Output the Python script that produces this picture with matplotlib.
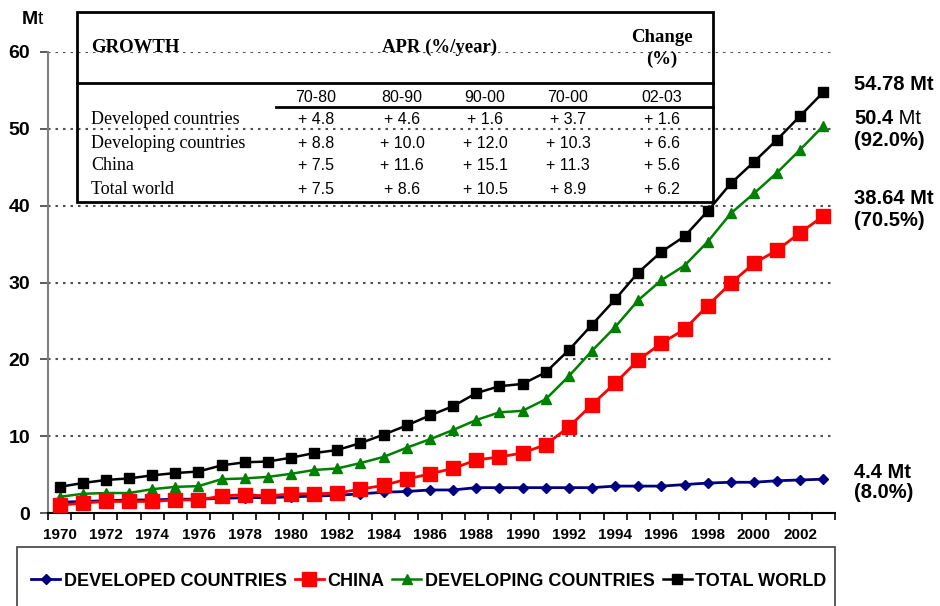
import numpy as np
import matplotlib
matplotlib.use('Agg')
import matplotlib.pyplot as plt
from matplotlib.lines import Line2D
from matplotlib.patches import Rectangle

# --- data (Mt) ---
years = list(range(1970, 2004))
developed = [1.4, 1.5, 1.6, 1.7, 1.7, 1.8, 1.8, 1.9, 2.0, 2.0, 2.1, 2.2, 2.3, 2.5, 2.7, 2.8, 3.0,
             3.0, 3.3, 3.3, 3.3, 3.3, 3.3, 3.3, 3.5, 3.5, 3.5, 3.7, 3.9, 4.0, 4.0, 4.2, 4.3, 4.4]
china = [1.0, 1.3, 1.5, 1.5, 1.5, 1.7, 1.7, 2.2, 2.4, 2.2, 2.5, 2.5, 2.6, 3.1, 3.6, 4.4, 5.1,
         5.8, 6.9, 7.3, 7.8, 8.9, 11.2, 14.1, 16.9, 19.9, 22.1, 23.9, 27.0, 29.9, 32.5, 34.2, 36.5, 38.64]
developing = [2.1, 2.5, 2.6, 2.6, 3.1, 3.4, 3.5, 4.4, 4.5, 4.7, 5.1, 5.6, 5.8, 6.5, 7.3, 8.5, 9.6,
              10.8, 12.1, 13.1, 13.3, 14.8, 17.8, 21.1, 24.2, 27.7, 30.3, 32.2, 35.3, 39.0, 41.6, 44.3, 47.3, 50.4]
total = [3.4, 3.9, 4.3, 4.5, 4.9, 5.2, 5.4, 6.2, 6.6, 6.7, 7.2, 7.8, 8.2, 9.1, 10.2, 11.4, 12.7,
         13.9, 15.6, 16.5, 16.8, 18.3, 21.2, 24.5, 27.8, 31.3, 34.0, 36.0, 39.3, 42.9, 45.7, 48.6, 51.7, 54.78]

series_labels = ['DEVELOPED COUNTRIES', 'CHINA', 'DEVELOPING COUNTRIES', 'TOTAL WORLD']

# growth table
table_cols = ['70-80', '80-90', '90-00', '70-00', '02-03']
table_rows = ['Developed countries', 'Developing countries', 'China', 'Total world']
table_vals = [['+ 4.8', '+ 4.6', '+ 1.6', '+ 3.7', '+ 1.6'],
              ['+ 8.8', '+ 10.0', '+ 12.0', '+ 10.3', '+ 6.6'],
              ['+ 7.5', '+ 11.6', '+ 15.1', '+ 11.3', '+ 5.6'],
              ['+ 7.5', '+ 8.6', '+ 10.5', '+ 8.9', '+ 6.2']]

SANS = 'Liberation Sans'
SERIF = 'Liberation Serif'
W, H = 940, 606


def fx(x):
    return x / W


def fy(y):
    return 1 - y / H


fig = plt.figure(figsize=(9.4, 6.06), dpi=100)
ax = fig.add_axes([fx(48), fy(513), fx(835 - 48), (513 - 52) / H])

ax.plot(years, developed, color='#000080', lw=2, marker='D', ms=5, zorder=3,
        label=series_labels[0])
ax.plot(years, developing, color='#008000', lw=1.8, marker='^', ms=7, zorder=4,
        label=series_labels[2])
ax.plot(years, total, color='black', lw=1.8, marker='s', ms=7, zorder=5,
        label=series_labels[3])
ax.plot(years, china, color='#ff0000', lw=2, marker='s', ms=10, zorder=6,
        label=series_labels[1])

ax.set_xlim(1969.5, 2003.5)
ax.set_ylim(0, 60)
ax.set_yticks(range(0, 61, 10))
ax.yaxis.grid(True, linestyle=(0, (1.2, 2.4)), color='#505050', lw=1.5)
ax.set_axisbelow(True)
for s in ['top', 'right']:
    ax.spines[s].set_visible(False)
ax.spines['left'].set_color('#808080')
ax.spines['left'].set_linewidth(1.5)
ax.spines['bottom'].set_linewidth(1.5)
ax.tick_params(axis='y', length=6, width=1.2, color='#404040', pad=7)

# category-style x axis: ticks between years, labels every 2 years
ax.set_xticks(np.arange(1969.5, 2004, 1))
ax.set_xticklabels([])
ax.tick_params(axis='x', which='major', length=5, width=1.2)
ax.set_xticks(years[::2], minor=True)
ax.set_xticklabels([str(y) for y in years[::2]], minor=True)
ax.tick_params(axis='x', which='minor', length=0, pad=11)

for lab in ax.get_yticklabels():
    lab.set_fontfamily(SANS)
    lab.set_fontweight('bold')
    lab.set_fontsize(14)
for lab in ax.get_xticklabels(minor=True):
    lab.set_fontfamily(SANS)
    lab.set_fontweight('bold')
    lab.set_fontsize(11)

# unit label
t = fig.text(fx(22), fy(19), 'M', fontfamily=SANS, fontweight='bold', fontsize=14,
             va='center', ha='left')
ax.annotate('t', xy=(1, 0), xycoords=t, va='bottom', ha='left',
            fontfamily=SANS, fontsize=14, annotation_clip=False)

# right-hand annotations
ann = dict(fontfamily=SANS, fontweight='bold', fontsize=14.5, ha='left', va='center')
fig.text(fx(854), fy(84), '54.78 Mt', **ann)
t = fig.text(fx(854), fy(119), '50.4', **ann)
ax.annotate(' Mt', xy=(1, 0), xycoords=t, va='bottom', ha='left',
            fontfamily=SANS, fontsize=14.5, annotation_clip=False)
fig.text(fx(854), fy(140), '(92.0%)', **ann)
fig.text(fx(854), fy(199), '38.64 Mt', **ann)
fig.text(fx(854), fy(221), '(70.5%)', **ann)
fig.text(fx(854), fy(472), '4.4 Mt', **ann)
fig.text(fx(854), fy(492), '(8.0%)', **ann)

# growth table (transparent, drawn on top of the chart)
lw_tab = 2
fig.add_artist(Rectangle((fx(77), fy(202)), fx(713 - 77), (202 - 12) / H,
                         fill=False, ec='black', lw=lw_tab))
fig.add_artist(Line2D([fx(77), fx(713)], [fy(83), fy(83)], color='black', lw=lw_tab))
fig.add_artist(Line2D([fx(276), fx(713)], [fy(107), fy(107)], color='black', lw=lw_tab))

head = dict(fontfamily=SERIF, fontweight='bold', fontsize=13.5, va='center')
fig.text(fx(91), fy(47), 'GROWTH', ha='left', **head)
fig.text(fx(440), fy(47), 'APR (%/year)', ha='center', **head)
fig.text(fx(662), fy(37), 'Change', ha='center', **head)
fig.text(fx(662), fy(59), '(%)', ha='center', **head)

col_x = [316, 402, 485, 568, 662]
row_y = [120, 143, 166, 189]
for cx, c in zip(col_x, table_cols):
    fig.text(fx(cx), fy(97), c, fontfamily=SANS, fontsize=11.5, ha='center', va='center')
for ry, name, vals in zip(row_y, table_rows, table_vals):
    fig.text(fx(91), fy(ry), name, fontfamily=SERIF, fontsize=13, ha='left', va='center')
    for cx, v in zip(col_x, vals):
        fig.text(fx(cx), fy(ry), v, fontfamily=SANS, fontsize=11.5, ha='center', va='center')

# legend in its own box along the bottom
fig.add_artist(Rectangle((fx(17), fy(620)), fx(835 - 17), (620 - 547) / H,
                         fill=False, ec='#404040', lw=1.2, clip_on=False))
handles, labels = ax.get_legend_handles_labels()
order = [labels.index(l) for l in series_labels]
fig.legend([handles[i] for i in order], [labels[i] for i in order],
           loc='center left', bbox_to_anchor=(fx(24), fy(581)), ncol=4, frameon=False,
           handlelength=1.6, handletextpad=0.2, columnspacing=0.45, borderaxespad=0,
           prop=dict(family=SANS, weight='bold', size=13))

fig.savefig('out.png', dpi=100)
